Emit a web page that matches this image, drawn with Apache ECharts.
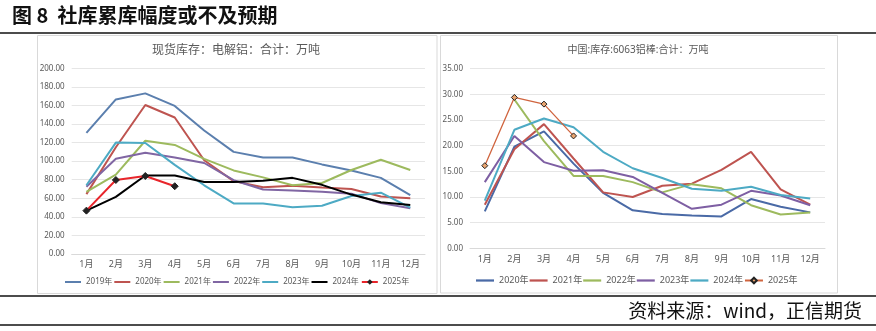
<!DOCTYPE html>
<html>
<head>
<meta charset="utf-8">
<script src="https://cdn.jsdelivr.net/npm/echarts@6/dist/echarts.min.js"></script>
<style>
html,body{margin:0;padding:0;background:#fff;}
#c{width:876px;height:331px;}
</style>
</head>
<body>
<div id="c"></div>
<script>
// ---- data ----
const months = ['1月','2月','3月','4月','5月','6月','7月','8月','9月','10月','11月','12月'];
const figTitle = '图 8  社库累库幅度或不及预期';
const sourceText = '资料来源：wind，正信期货';
const leftTitle = '现货库存：电解铝：合计：万吨';
const rightTitle = '中国:库存:6063铝棒:合计：万吨';

const leftNames = ['2019年','2020年','2021年','2022年','2023年','2024年','2025年'];
const al2019 = [130.5, 166.5, 173, 159.5, 133, 110, 104, 104, 96.5, 90, 82, 63.5];
const al2020 = [64.5, 115, 160.5, 147, 101, 78.5, 72, 73.5, 71.5, 70, 62, 60];
const al2021 = [67, 85.5, 122, 117.5, 102.5, 90, 82.5, 74, 76.5, 90.5, 101.5, 90.5];
const al2022 = [72.5, 102.5, 109, 104, 98, 79.5, 69.5, 68.5, 67, 65, 54.8, 49.2];
const al2023 = [74, 120, 119.5, 96, 74, 54.5, 54.5, 50.3, 52, 62.5, 66, 50];
const al2024 = [46.7, 61.5, 84.5, 84.5, 77.5, 77.5, 79, 82, 74.5, 64, 55.7, 52.8];
const al2025 = [46.7, 79.7, 84, 73];
const leftY = [0, 200, 20];

const rightNames = ['2020年','2021年','2022年','2023年','2024年','2025年'];
const r2020 = [7.2, 19.8, 22.8, 16.5, 10.8, 7.4, 6.7, 6.4, 6.2, 9.6, 8.1, 7.0];
const r2021 = [8.5, 19.3, 24.2, 17.5, 10.9, 10.0, 12.2, 12.6, 15.3, 18.8, 11.5, 8.5];
const r2022 = [null, 29.0, 20.9, 14.1, 14.1, 12.9, 10.9, 12.5, 11.7, 8.4, 6.6, 7.0];
const r2023 = [12.9, 21.9, 16.8, 15.1, 15.2, 13.9, 10.8, 7.7, 8.5, 11.2, 10.3, 8.4];
const r2024 = [9.3, 23.1, 25.3, 23.6, 18.8, 15.6, 13.7, 11.6, 11.2, 12.0, 10.4, 9.7];
const r2025 = [16.1, 29.4, 28.1, 21.9];
const rightY = [0, 35, 5];

// ---- styles ----
const leftColors = ['#5B7FAE','#BE5450','#9DBA5E','#8066A3','#4DAAC4','#000000','#E8252B'];
const rightColors = ['#4A6AA6','#BE5450','#9DBA5E','#7E5FA3','#4DAAC4','#D0643E'];
const FONT = "'Noto Sans', 'Noto Sans CJK SC', sans-serif";
const GRAY = '#595959';
const BAR_ICON = 'path://M0 0H40V5H0Z';

const leftData = [al2019, al2020, al2021, al2022, al2023, al2024, al2025];
const rightData = [r2020, r2021, r2022, r2023, r2024, r2025];

const series = [];
leftNames.forEach((n, i) => {
  const is25 = i === 6;
  series.push({
    name: n, type: 'line', xAxisIndex: 0, yAxisIndex: 0, data: leftData[i],
    symbol: is25 ? 'diamond' : 'none', symbolSize: 7, showSymbol: is25,
    itemStyle: is25 ? {color: '#222', borderColor: '#222'} : {color: leftColors[i], borderWidth: 0},
    lineStyle: {color: leftColors[i], width: 2},
    color: leftColors[i],
    z: is25 ? 10 : (i === 5 ? 9 : 2)
  });
});
rightNames.forEach((n, i) => {
  const is25 = i === 5;
  series.push({
    name: n + ' ', type: 'line', xAxisIndex: 1, yAxisIndex: 1, data: rightData[i],
    symbol: is25 ? 'diamond' : 'none', symbolSize: 6, showSymbol: is25,
    itemStyle: is25 ? {color: '#E9A46F', borderColor: '#222', borderWidth: 1} : {color: rightColors[i], borderWidth: 0},
    lineStyle: {color: rightColors[i], width: is25 ? 1.3 : 2},
    color: rightColors[i],
    z: is25 ? 10 : 2
  });
});

const leftLegendData = leftNames.map((n, i) => i === 6 ? {name: n} : {name: n, icon: BAR_ICON, itemStyle: {color: leftColors[i], borderWidth: 0}});
const rightLegendData = rightNames.map((n, i) => i === 5 ? {name: n + ' '} : {name: n + ' ', icon: BAR_ICON, itemStyle: {color: rightColors[i], borderWidth: 0}});

const chart = echarts.init(document.getElementById('c'), null, {renderer: 'canvas'});
chart.setOption({
  animation: false,
  textStyle: {fontFamily: FONT},
  grid: [
    {left: 71.7, right: 451, top: 68.3, bottom: 77, containLabel: false},
    {left: 470, right: 51, top: 68.7, bottom: 82.7, containLabel: false}
  ],
  xAxis: [0, 1].map(g => ({
    type: 'category', gridIndex: g, data: months, boundaryGap: true,
    axisLine: {lineStyle: {color: '#D9D9D9'}}, axisTick: {show: false},
    axisLabel: {color: GRAY, fontSize: 9, margin: g === 0 ? 6 : 7, fontFamily: FONT}
  })),
  yAxis: [leftY, rightY].map((r, g) => ({
    type: 'value', gridIndex: g, min: r[0], max: r[1], interval: r[2],
    axisLine: {show: false}, axisTick: {show: false},
    splitLine: {lineStyle: {color: '#E6E6E6', width: 1}},
    axisLabel: {color: GRAY, fontSize: 8, margin: 7, formatter: v => v.toFixed(2), fontFamily: FONT}
  })),
  legend: [
    {data: leftLegendData, left: 65, top: 278, padding: 0, itemWidth: 16, itemHeight: 7, itemGap: 2,
     textStyle: {color: GRAY, fontSize: 8, fontFamily: FONT}, selectedMode: false},
    {data: rightLegendData, left: 476, top: 276, padding: 0, itemWidth: 18, itemHeight: 7, itemGap: 1,
     formatter: n => n.trim(),
     textStyle: {color: GRAY, fontSize: 9, fontFamily: FONT}, selectedMode: false}
  ],
  graphic: [
    {type: 'text', left: 12, top: 5, style: {text: figTitle, font: "bold 20px 'Noto Sans CJK SC', sans-serif", fill: '#111'}},
    {type: 'line', shape: {x1: 0, y1: 33, x2: 876, y2: 33}, style: {stroke: '#111', lineWidth: 1.5}},
    {type: 'rect', shape: {x: 37.5, y: 35.5, width: 399.5, height: 258}, style: {fill: 'none', stroke: '#D9D9D9', lineWidth: 1}, z: -1},
    {type: 'rect', shape: {x: 440.5, y: 35.5, width: 397, height: 257.5}, style: {fill: 'none', stroke: '#D9D9D9', lineWidth: 1}, z: -1},
    {type: 'text', x: 236, y: 49, style: {text: leftTitle, font: "12px 'Noto Sans CJK SC', sans-serif", fill: GRAY, textAlign: 'center', textVerticalAlign: 'middle'}},
    {type: 'text', x: 638, y: 50, style: {text: rightTitle, font: "10px 'Noto Sans', 'Noto Sans CJK SC', sans-serif", fill: GRAY, textAlign: 'center', textVerticalAlign: 'middle'}},
    {type: 'line', shape: {x1: 0, y1: 296, x2: 876, y2: 296}, style: {stroke: '#111', lineWidth: 1.5}},
    {type: 'text', x: 862, y: 311, style: {text: sourceText, font: "19px 'Noto Sans CJK SC', sans-serif", fill: '#111', textAlign: 'right', textVerticalAlign: 'middle'}},
    {type: 'line', shape: {x1: 0, y1: 325, x2: 876, y2: 325}, style: {stroke: '#111', lineWidth: 1.5}}
  ],
  series: series
});
</script>
</body>
</html>
